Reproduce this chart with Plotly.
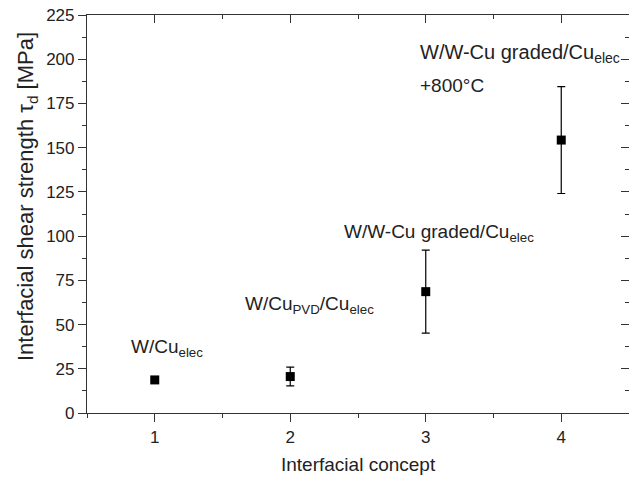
import plotly.graph_objects as go

concept = [1, 2, 3, 4]
strength = [18.7, 20.6, 68.6, 154.3]
err = [0, 5.3, 23.5, 30.2]
labels = ["W/Cu<sub>elec</sub>", "W/Cu<sub>PVD</sub>/Cu<sub>elec</sub>",
          "W/W-Cu graded/Cu<sub>elec</sub>", "W/W-Cu graded/Cu<sub>elec</sub>"]
label_x = [0.81, 1.65, 2.38, 2.94]
label_y = [37, 61, 102, 203]
extra_text = "+800°C"
extra_xy = (2.94, 185)
x_title = "Interfacial concept"
y_title = "Interfacial shear strength τ<sub>d</sub> [MPa]"

FONT = "Liberation Sans, Arial, sans-serif"
TXT = "#222222"
AX = "#333333"

fig = go.Figure()
fig.add_trace(go.Scatter(
    x=concept, y=strength, mode="markers",
    marker=dict(symbol="square", size=9, color="black"),
    error_y=dict(type="data", array=err, visible=True, color="black", thickness=1.2, width=4),
    showlegend=False, hoverinfo="skip"))
# invisible trace for mirrored axes
fig.add_trace(go.Scatter(x=[concept[0]], y=[strength[0]], xaxis="x2", yaxis="y2",
                         mode="markers", marker=dict(opacity=0), showlegend=False, hoverinfo="skip"))

sizes = [19, 19, 19, 20]
for t, x, y, s in zip(labels, label_x, label_y, sizes):
    fig.add_annotation(x=x, y=y, xref="x", yref="y", text=t, showarrow=False,
                       xanchor="left", yanchor="middle", font=dict(size=s, color=TXT, family=FONT))
fig.add_annotation(x=extra_xy[0], y=extra_xy[1], xref="x", yref="y", text=extra_text, showarrow=False,
                   xanchor="left", yanchor="middle", font=dict(size=19, color=TXT, family=FONT))

# axis titles
fig.add_annotation(x=0.5, y=0, xref="paper", yref="paper", yshift=-51, text=x_title, showarrow=False,
                   xanchor="center", yanchor="middle", font=dict(size=19, color=TXT, family=FONT))
fig.add_annotation(x=0, y=(413 - 197) / 398, xref="paper", yref="paper", xshift=-60, text=y_title,
                   textangle=-90, showarrow=False, xanchor="center", yanchor="middle",
                   font=dict(size=22, color=TXT, family=FONT))

axcommon = dict(showgrid=False, zeroline=False, showline=True, linecolor=AX, linewidth=1.2,
                tickcolor=AX, tickwidth=1.2)
fig.update_layout(
    width=629, height=477,
    margin=dict(l=87, r=0, t=15, b=64),
    plot_bgcolor="white", paper_bgcolor="white",
    font=dict(family=FONT, color=TXT, size=17),
    xaxis=dict(range=[0.5, 4.5], tickvals=concept, ticks="outside", ticklen=8,
               minor=dict(dtick=0.5, tick0=0.5, ticks="outside", ticklen=4, tickcolor=AX, tickwidth=1.2),
               tickfont=dict(size=17, color=TXT, family=FONT), **axcommon),
    yaxis=dict(range=[0, 225], dtick=25, tick0=0, ticks="outside", ticklen=8,
               minor=dict(dtick=12.5, tick0=0, ticks="outside", ticklen=4, tickcolor=AX, tickwidth=1.2),
               tickfont=dict(size=17, color=TXT, family=FONT), **axcommon),
    xaxis2=dict(range=[0.5, 4.5], overlaying="x", side="top", tickvals=concept, ticks="inside", ticklen=8,
                showticklabels=False,
                minor=dict(dtick=0.5, tick0=0.5, ticks="inside", ticklen=4, tickcolor=AX, tickwidth=1.2),
                **axcommon),
    yaxis2=dict(range=[0, 225], overlaying="y", side="right", dtick=25, tick0=0, ticks="inside", ticklen=8,
                showticklabels=False,
                minor=dict(dtick=12.5, tick0=0, ticks="inside", ticklen=4, tickcolor=AX, tickwidth=1.2),
                **axcommon),
)

fig.write_html("out.html")
